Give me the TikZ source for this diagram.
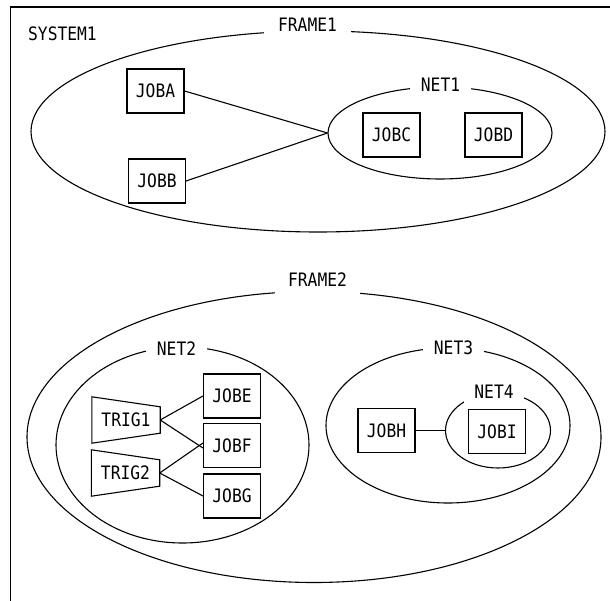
\documentclass[tikz,border=0pt]{standalone}
\usepackage{fontspec}
\newfontfamily\jf[FakeStretch=0.88]{DejaVu Sans Mono}
\usetikzlibrary{shapes.geometric,calc}
\begin{document}
\begin{tikzpicture}[x=1pt,y=-1pt,
  every node/.style={font=\jf\fontsize{18.5}{20}\selectfont},
  line/.style={line width=1.1pt, black},
  jobbox/.style={draw, line width=1.1pt, minimum width=57pt, minimum height=44pt, inner sep=0pt},
  grp/.style={ellipse, draw, line width=1.1pt, inner sep=0pt},
  lbl/.style={fill=white, inner xsep=11pt, inner ysep=8pt},
  trigtext/.style={minimum width=68pt, minimum height=46pt, inner sep=0pt}]
\useasboundingbox (0,0) rectangle (610,601);
% border
\draw[line] (610,7) -- (10.5,7) -- (10.5,601);
\node (system1) at (62.5,34) {SYSTEM1};
% groups
\node[grp, minimum width=574pt, minimum height=201pt] (frame1) at (318,131.5) {};
\node[grp, minimum width=224pt, minimum height=92pt] (net1) at (440,133) {};
\node[grp, minimum width=574pt, minimum height=291pt] (frame2) at (314,437) {};
\node[grp, minimum width=253pt, minimum height=196pt] (net2) at (182.5,445) {};
\node[grp, minimum width=244pt, minimum height=155pt] (net3) at (448,425.5) {};
\node[grp, minimum width=105pt, minimum height=75pt] (net4) at (498,430.5) {};
% labels
\node[lbl, inner xsep=14pt] (lframe1) at (307.5,24.5) {FRAME1};
\node[lbl] (lnet1) at (440.5,85) {NET1};
\node[lbl, inner xsep=13pt, inner ysep=9pt] (lframe2) at (317.5,279.5) {FRAME2};
\node[lbl] (lnet2) at (176.5,348.5) {NET2};
\node[lbl] (lnet3) at (453.5,348) {NET3};
\node[lbl, inner xsep=10pt] (lnet4) at (494,391.5) {NET4};
% jobs
\node[jobbox] (joba) at (155.5,91) {JOBA};
\node[jobbox] (jobb) at (157,181) {JOBB};
\node[jobbox] (jobc) at (391.5,135) {JOBC};
\node[jobbox] (jobd) at (493.5,135) {JOBD};
\node[jobbox] (jobe) at (232,396) {JOBE};
\node[jobbox] (jobf) at (232,445.5) {JOBF};
\node[jobbox] (jobg) at (232,496) {JOBG};
\node[jobbox] (jobh) at (386.5,430.5) {JOBH};
\node[jobbox] (jobi) at (497,431.5) {JOBI};
% triggers
\node[trigtext] (trig1) at (126,420) {TRIG1};
\node[trigtext] (trig2) at (125.5,473) {TRIG2};
\draw[line] (trig1.north west) -- ($(trig1.north east)+(0,10)$) -- ($(trig1.south east)+(0,-10)$) -- (trig1.south west) -- cycle;
\draw[line] (trig2.north west) -- ($(trig2.north east)+(0,10)$) -- ($(trig2.south east)+(0,-10)$) -- (trig2.south west) -- cycle;
% connectors
\draw[line] (joba.east) -- (net1.west);
\draw[line] (jobb.east) -- (net1.west);
\draw[line] (trig1.east) -- (jobe.west);
\draw[line] (trig1.east) -- ([yshift=-2.5pt]jobf.west);
\draw[line] (trig2.east) -- ([yshift=2.5pt]jobf.west);
\draw[line] (trig2.east) -- (jobg.west);
\draw[line] (jobh.east) -- (net4.west);
\end{tikzpicture}
\end{document}
